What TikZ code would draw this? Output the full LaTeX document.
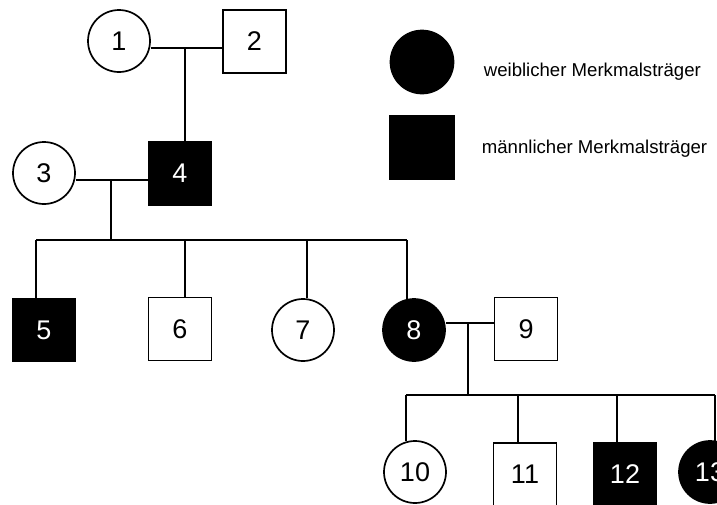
\documentclass[tikz,border=0pt]{standalone}
\usepackage{fontspec}
\setmainfont{Liberation Sans}
\begin{document}
\begin{tikzpicture}[x=1pt,y=-1pt,
  line width=1.7pt,
  num/.style={inner sep=0pt, font=\fontsize{27}{32}\selectfont},
  fem/.style={num, circle, draw, minimum size=62pt},
  mal/.style={num, rectangle, draw, minimum size=63pt},
  aff/.style={fill=black, text=white},
  legtext/.style={inner sep=0pt, anchor=base west, font=\fontsize{18.6}{22}\selectfont},
  link/.style={line width=1.7pt}]
\useasboundingbox (0,0) rectangle (717,504);
% generation I
\node[fem] (n1) at (119,41) {1};
\node[mal] (n2) at (254.5,41.5) {2};
% generation II
\node[fem] (n3) at (44,173) {3};
\node[mal,aff] (n4) at (180,173.5) {4};
% generation III
\node[mal,aff] (n5) at (44,330) {5};
\node[mal] (n6) at (180,329) {6};
\node[fem] (n7) at (303,330) {7};
\node[fem,aff] (n8) at (414,330) {8};
\node[mal] (n9) at (526,329) {9};
% generation IV
\node[fem] (n10) at (415,472) {10};
\node[mal] (n11) at (525,474.5) {11};
\node[mal,aff] (n12) at (625,474.5) {12};
\node[fem,aff] (n13) at (710,472) {13};
% legend
\node[fem,aff,minimum size=63pt] (lf) at (422,62) {};
\node[legtext] (lft) at (483,76) {weiblicher Merkmalsträger};
\node[mal,aff,minimum size=64pt] (lm) at (422,147.5) {};
\node[legtext] (lmt) at (481,153) {männlicher Merkmalsträger};
% couple 1-2
\coordinate (m12) at (185,48);
\draw[link] (m12 -| n1.east) -- (m12 -| n2.west);
\draw[link] (m12) -- (m12 |- n4.north);
% couple 3-4
\coordinate (m34) at (111,180);
\draw[link] (m34 -| n3.east) -- (m34 -| n4.west);
\coordinate (s34) at (111,240);
\draw[link] (m34) -- (s34);
\coordinate (d5) at (36,240);
\coordinate (d6) at (185,240);
\coordinate (d7) at (307,240);
\coordinate (d8) at (407,240);
\draw[link] (d5) -- (d8);
\draw[link] (d5) -- (d5 |- n5.north);
\draw[link] (d6) -- (d6 |- n6.north);
\draw[link] (d7) -- (d7 |- n7.north);
\draw[link] (d8) -- (407,299.8);
% couple 8-9
\coordinate (m89) at (468,323);
\draw[link] (m89 -| n8.east) -- (m89 -| n9.west);
\coordinate (s89) at (468,395);
\draw[link] (m89) -- (s89);
\coordinate (d10) at (406,395);
\coordinate (d11) at (518,395);
\coordinate (d12) at (617,395);
\coordinate (d13) at (715,395);
\draw[link] (d10) -- (d13);
\draw[link] (d10) -- (406,441.2);
\draw[link] (d11) -- (d11 |- n11.north);
\draw[link] (d12) -- (d12 |- n12.north);
\draw[link] (d13) -- (715,441.5);
\end{tikzpicture}
\end{document}
